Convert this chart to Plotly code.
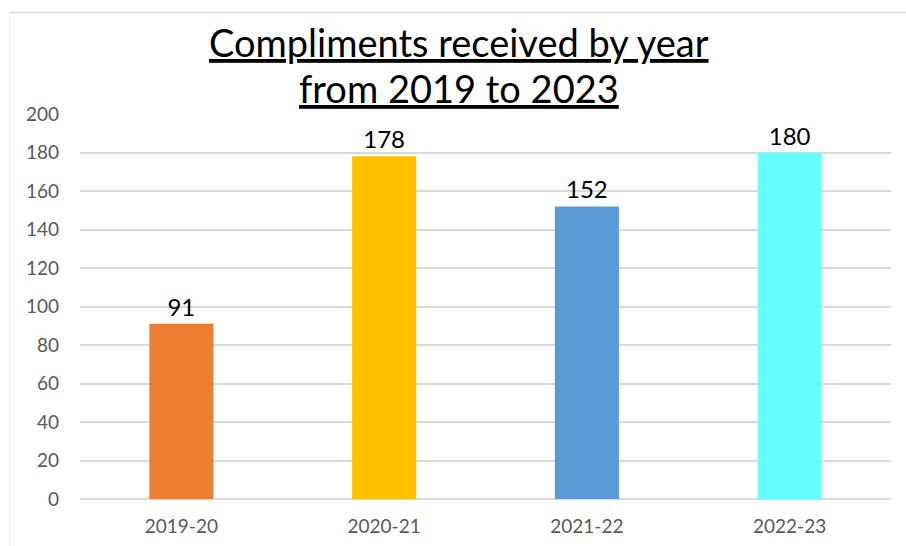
import plotly.graph_objects as go

# Compliments received per financial year
years = ["2019-20", "2020-21", "2021-22", "2022-23"]
compliments = [91, 178, 152, 180]
bar_colors = ["#ED7D31", "#FFC000", "#5B9BD5", "#66FFFF"]
y_ticks = list(range(0, 201, 20))
title_lines = ["Compliments received by year", "from 2019 to 2023"]

FONT = "Lato"
PLOT_TOP, PLOT_BOTTOM, PLOT_LEFT, PLOT_RIGHT = 114, 499, 80, 891
PLOT_H = PLOT_BOTTOM - PLOT_TOP
PLOT_W = PLOT_RIGHT - PLOT_LEFT


def py(px):
    """Pixel row -> paper y."""
    return (PLOT_BOTTOM - px) / PLOT_H


def px_(px):
    """Pixel column -> paper x."""
    return (px - PLOT_LEFT) / PLOT_W


fig = go.Figure(
    go.Bar(
        x=years,
        y=compliments,
        marker=dict(color=bar_colors, line=dict(width=0)),
        text=[str(v) for v in compliments],
        textposition="outside",
        textfont=dict(family=FONT, size=24, color="#000000"),
        cliponaxis=False,
        width=0.316,
    )
)

title_annotations = [
    dict(
        text=f"<u>{line}</u>",
        xref="paper", yref="paper",
        x=px_(459), y=py(cy),
        xanchor="center", yanchor="middle",
        showarrow=False,
        font=dict(family=FONT, size=38, color="#000000"),
    )
    for line, cy in zip(title_lines, [42, 88])
]

fig.update_layout(
    width=906,
    height=546,
    margin=dict(l=PLOT_LEFT, r=906 - PLOT_RIGHT, t=PLOT_TOP, b=546 - PLOT_BOTTOM),
    paper_bgcolor="white",
    plot_bgcolor="white",
    showlegend=False,
    annotations=title_annotations,
    xaxis=dict(
        automargin=False,
        showgrid=False,
        showline=False,
        ticks="",
        ticklabelstandoff=14,
        tickfont=dict(family=FONT, size=19, color="#595959"),
    ),
    yaxis=dict(
        automargin=False,
        range=[0, 200],
        tickvals=y_ticks,
        showgrid=True,
        gridcolor="#D9D9D9",
        gridwidth=1.5,
        zeroline=True,
        zerolinecolor="#D9D9D9",
        zerolinewidth=1.5,
        showline=False,
        ticks="",
        ticklabelstandoff=20,
        tickfont=dict(family=FONT, size=19, color="#595959"),
    ),
    shapes=[
        # chart area frame (top and left edges visible)
        dict(type="line", xref="paper", yref="paper",
             x0=px_(9), x1=px_(906), y0=py(12.5), y1=py(12.5),
             line=dict(color="#D9D9D9", width=1.3), layer="below"),
        dict(type="line", xref="paper", yref="paper",
             x0=px_(9.5), x1=px_(9.5), y0=py(12.5), y1=py(560),
             line=dict(color="#EEEEEE", width=1), layer="below"),
    ],
)

fig.write_html("out.html")
